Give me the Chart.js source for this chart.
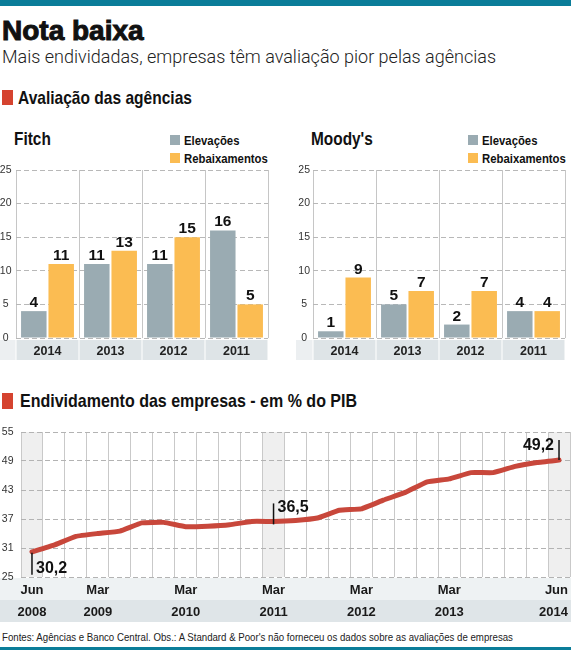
<!DOCTYPE html>
<html>
<head>
<meta charset="utf-8">
<script src="https://cdn.jsdelivr.net/npm/chart.js"></script>
<style>
  body { margin: 0; width: 571px; height: 650px; position: relative; overflow: hidden; background: #fff; color: #111; font-family: "Liberation Sans", Arial, sans-serif; }
  .t { position: absolute; line-height: 1; white-space: nowrap; transform-origin: 0 0; }
  .band { position: absolute; left: 0; width: 571px; background: #0b7d99; }
  .sq { position: absolute; width: 11px; }
  .sec { font-weight: bold; font-size: 18.5px; transform: scaleX(0.84); }
  .name { font-weight: bold; font-size: 17.5px; transform: scaleX(0.88); }
  .leg { font-weight: bold; font-size: 13.5px; transform: scaleX(0.84); }
  .box { position: absolute; }
</style>
</head>
<body>
<div class="band" style="top:0;height:6px"></div>
<div class="t" style="left:2px;top:17px;font-size:28px;font-weight:bold;-webkit-text-stroke:1px #111">Nota baixa</div>
<div class="t" style="left:2px;top:48px;font-family:Roboto,sans-serif;font-weight:300;font-size:18px;color:#222">Mais endividadas, empresas têm avaliação pior pelas agências</div>

<div class="sq" style="left:2px;top:90px;height:15px;background:#d5432f"></div>
<div class="t sec" style="left:18px;top:89px">Avaliação das agências</div>

<div class="t name" style="left:14px;top:131px">Fitch</div>
<div class="sq" style="left:170px;top:135px;height:10px;width:10px;background:#9aabb2"></div>
<div class="t leg" style="left:184px;top:134px">Elevações</div>
<div class="sq" style="left:170px;top:153px;height:10px;width:10px;background:#fbbc52"></div>
<div class="t leg" style="left:184px;top:152px">Rebaixamentos</div>

<div class="t name" style="left:311px;top:131px">Moody's</div>
<div class="sq" style="left:468px;top:135px;height:10px;width:10px;background:#9aabb2"></div>
<div class="t leg" style="left:482px;top:134px">Elevações</div>
<div class="sq" style="left:468px;top:153px;height:10px;width:10px;background:#fbbc52"></div>
<div class="t leg" style="left:482px;top:152px">Rebaixamentos</div>

<div class="box" style="left:0;top:163px;width:272px;height:199px"><canvas id="fitch"></canvas></div>
<div class="box" style="left:296px;top:163px;width:275px;height:199px"><canvas id="moodys"></canvas></div>

<div class="sq" style="left:2px;top:393px;height:16px;background:#d5432f"></div>
<div class="t sec" style="left:20px;top:392px;transform:scaleX(0.865)">Endividamento das empresas - em % do PIB</div>

<div class="box" style="left:0;top:422px;width:571px;height:203px"><canvas id="divida"></canvas></div>

<div class="t" style="left:2px;top:632px;font-size:11.5px;color:#222;transform:scaleX(0.84)">Fontes: Agências e Banco Central. Obs.: A Standard &amp; Poor's não forneceu os dados sobre as avaliações de empresas</div>
<div class="band" style="top:647px;height:3px"></div>

<script>
const barYears = ['2014', '2013', '2012', '2011'];
const fitchElevacoes = [4, 11, 11, 16];
const fitchRebaixamentos = [11, 13, 15, 5];
const moodysElevacoes = [1, 5, 2, 4];
const moodysRebaixamentos = [9, 7, 7, 4];

const quarters = ['Jun 2008', 'Set 2008', 'Dez 2008', 'Mar 2009', 'Jun 2009', 'Set 2009', 'Dez 2009',
  'Mar 2010', 'Jun 2010', 'Set 2010', 'Dez 2010', 'Mar 2011', 'Jun 2011', 'Set 2011', 'Dez 2011',
  'Mar 2012', 'Jun 2012', 'Set 2012', 'Dez 2012', 'Mar 2013', 'Jun 2013', 'Set 2013', 'Dez 2013',
  'Mar 2014', 'Jun 2014'];
const endividamento = [30.2, 31.6, 33.4, 34.0, 34.5, 36.2, 36.3, 35.4, 35.5, 35.8, 36.5, 36.5, 36.7,
  37.2, 38.8, 39.1, 40.9, 42.5, 44.7, 45.3, 46.6, 46.6, 47.9, 48.7, 49.2];
const quarterTicks = ['Jun 2008', 'Mar 2009', 'Mar 2010', 'Mar 2011', 'Mar 2012', 'Mar 2013', 'Jun 2014'];
const markedQuarters = ['Jun 2008', 'Mar 2011', 'Jun 2014'];

const GRAY = '#9aabb2';
const YELLOW = '#fbbc52';
const RED = '#c8473b';

// numbers above each bar
const barValues = {
  id: 'barValues',
  afterDatasetsDraw(chart) {
    const ctx = chart.ctx;
    ctx.save();
    ctx.font = 'bold 15.5px "Liberation Sans"';
    ctx.fillStyle = '#111';
    ctx.textAlign = 'center';
    chart.data.datasets.forEach((ds, di) => {
      chart.getDatasetMeta(di).data.forEach((bar, i) => {
        ctx.fillText(ds.data[i], bar.x, bar.y - 4);
      });
    });
    ctx.restore();
  }
};

// grey strip under the bars holding the years
const barStrip = {
  id: 'barStrip',
  beforeDraw(chart) {
    const { ctx, chartArea: a } = chart;
    const x = chart.scales.x;
    ctx.save();
    ctx.fillStyle = '#eceff1';
    ctx.fillRect(0, a.bottom + 2, a.left, 20);
    ctx.fillStyle = '#dee4e7';
    ctx.fillRect(a.left, a.bottom + 2, a.right - a.left, 20);
    ctx.fillStyle = '#fff';
    for (let i = 0; i <= barYears.length; i++) {
      ctx.fillRect(Math.round(x.getPixelForValue(i - 0.5)) - 0.5, a.bottom + 2, 1, 20);
    }
    ctx.restore();
  }
};

function barChart(id, elev, rebx, axisWidth, tickPad, padRight) {
  new Chart(document.getElementById(id), {
    type: 'bar',
    data: {
      labels: barYears,
      datasets: [
        { label: 'Elevações', data: elev, backgroundColor: GRAY },
        { label: 'Rebaixamentos', data: rebx, backgroundColor: YELLOW }
      ]
    },
    options: {
      responsive: true,
      maintainAspectRatio: false,
      animation: false,
      categoryPercentage: 0.87,
      barPercentage: 0.93,
      layout: { padding: { top: 7, right: padRight, left: 0, bottom: 0 } },
      plugins: { legend: { display: false }, tooltip: { enabled: false } },
      scales: {
        x: {
          grid: { offset: true, color: '#c6c6c6', drawTicks: false },
          border: { display: false },
          ticks: { padding: 6.5, color: '#222', font: { family: 'Liberation Sans', weight: 'bold', size: 12.5 } },
          afterFit(s) { s.height = 24; s.paddingLeft = 0; s.paddingRight = 0; }
        },
        y: {
          min: 0, max: 25,
          grid: { color: '#b8b8b8', drawTicks: false },
          border: { display: false, dash: [5, 3] },
          ticks: { stepSize: 5, crossAlign: 'center', padding: tickPad, color: '#333', font: { family: 'Liberation Sans', size: 10.5, lineHeight: 1 } },
          afterFit(s) { s.width = axisWidth; s.paddingTop = 0; s.paddingBottom = 0; }
        }
      }
    },
    plugins: [barStrip, barValues]
  });
}

barChart('fitch', fitchElevacoes, fitchRebaixamentos, 16, 4.5, 4);
barChart('moodys', moodysElevacoes, moodysRebaixamentos, 17, 3, 6);

// shaded columns and two-row axis strip of the debt chart
const lineBack = {
  id: 'lineBack',
  beforeDraw(chart) {
    const { ctx, chartArea: a, width } = chart;
    const x = chart.scales.x;
    const half = (x.getPixelForValue(1) - x.getPixelForValue(0)) / 2;
    ctx.save();
    ctx.fillStyle = '#efefef';
    markedQuarters.forEach(q => {
      const px = x.getPixelForValue(quarters.indexOf(q));
      ctx.fillRect(px - half, a.top, half * 2, a.bottom - a.top);
    });
    ctx.fillStyle = '#eef2f3';
    ctx.fillRect(0, a.bottom + 1, width, 22);
    ctx.fillStyle = '#dfe5e8';
    ctx.fillRect(0, a.bottom + 23, width, 22);
    ctx.restore();
  },
  afterDraw(chart) {
    const { ctx, chartArea: a } = chart;
    const x = chart.scales.x;
    ctx.save();
    ctx.font = 'bold 13px "Liberation Sans"';
    ctx.fillStyle = '#1a1a1a';
    ctx.textBaseline = 'middle';
    quarterTicks.forEach((q, k) => {
      const [m, y] = q.split(' ');
      let px = x.getPixelForValue(quarters.indexOf(q));
      ctx.textAlign = 'center';
      if (k === quarterTicks.length - 1) { ctx.textAlign = 'right'; px = a.right - 2; }
      ctx.fillText(m, px, a.bottom + 13);
      ctx.fillText(y, px, a.bottom + 35);
    });
    ctx.restore();
  },
  afterDatasetsDraw(chart) {
    const ctx = chart.ctx;
    const pts = chart.getDatasetMeta(0).data;
    ctx.save();
    ctx.font = 'bold 16px "Liberation Sans"';
    ctx.fillStyle = '#111';
    ctx.strokeStyle = '#111';
    ctx.lineWidth = 1.5;
    markedQuarters.forEach((q, k) => {
      const i = quarters.indexOf(q);
      const p = pts[i];
      const txt = endividamento[i].toFixed(1).replace('.', ',');
      ctx.beginPath();
      if (k === 0) {
        ctx.moveTo(p.x, p.y + 1); ctx.lineTo(p.x, p.y + 23);
        ctx.textAlign = 'left'; ctx.fillText(txt, p.x + 4, p.y + 21);
      } else if (k === markedQuarters.length - 1) {
        ctx.moveTo(p.x, p.y); ctx.lineTo(p.x, p.y - 20);
        ctx.textAlign = 'right'; ctx.fillText(txt, p.x - 5, p.y - 10);
      } else {
        ctx.moveTo(p.x, p.y + 3); ctx.lineTo(p.x, p.y - 18);
        ctx.textAlign = 'left'; ctx.fillText(txt, p.x + 4, p.y - 9);
      }
      ctx.stroke();
    });
    ctx.restore();
  }
};

new Chart(document.getElementById('divida'), {
  type: 'line',
  data: {
    labels: quarters,
    datasets: [{
      data: endividamento,
      borderColor: RED,
      borderWidth: 5,
      pointRadius: 0,
      tension: 0.1,
      borderJoinStyle: 'round',
      borderCapStyle: 'round'
    }]
  },
  options: {
    responsive: true,
    maintainAspectRatio: false,
    animation: false,
    layout: { padding: { top: 10, right: 1, left: 0, bottom: 0 } },
    plugins: { legend: { display: false }, tooltip: { enabled: false } },
    scales: {
      x: {
        offset: true,
        grid: { offset: true, color: '#c9c9c9', drawTicks: false },
        border: { display: false },
        ticks: { display: false, autoSkip: false },
        afterFit(s) { s.height = 48; s.paddingLeft = 0; s.paddingRight = 0; }
      },
      y: {
        min: 25, max: 55,
        grid: { color: '#b3b3b3', drawTicks: false },
        border: { display: false, dash: [5, 3] },
        ticks: { stepSize: 6, crossAlign: 'center', padding: 7.5, color: '#333', font: { family: 'Liberation Sans', size: 10.5, lineHeight: 1 } },
        afterFit(s) { s.width = 21; s.paddingTop = 0; s.paddingBottom = 0; }
      }
    }
  },
  plugins: [lineBack]
});
</script>
</body>
</html>
